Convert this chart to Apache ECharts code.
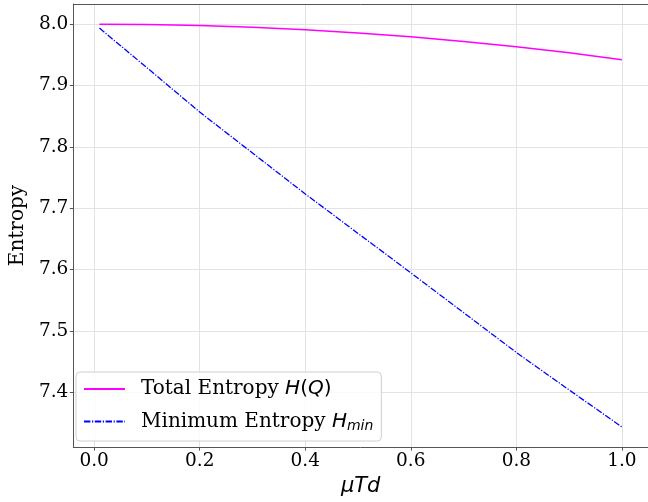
<!DOCTYPE html>
<html><head><meta charset="utf-8">
<script src="https://cdn.jsdelivr.net/npm/echarts@6/dist/echarts.min.js"></script>
<style>html,body{margin:0;padding:0;background:#fff}#c{width:648px;height:502px}</style>
</head><body><div id="c"></div>
<script>
const xValues = [0.01, 0.1, 0.2, 0.3, 0.4, 0.5, 0.6, 0.7, 0.8, 0.9, 1.0];
const totalEntropy = [8.0, 7.9994, 7.9977, 7.9949, 7.9909, 7.9857, 7.9795, 7.9718, 7.9633, 7.9532, 7.9420];
const minEntropy = [7.9935, 7.929, 7.8567, 7.790, 7.7233, 7.659, 7.5948, 7.530, 7.465, 7.404, 7.3436];
const xTicks = [0.0, 0.2, 0.4, 0.6, 0.8, 1.0];
const yTicks = [7.4, 7.5, 7.6, 7.7, 7.8, 7.9, 8.0];

const serif = "'DejaVu Serif', serif";
const sans = "'DejaVu Sans', sans-serif";
const chart = echarts.init(document.getElementById('c'), null, {renderer: 'canvas'});
chart.setOption({
  animation: false,
  backgroundColor: '#fff',
  grid: {left: 66, top: 4, width: 583, bottom: 51, show: false, containLabel: false},
  xAxis: [{
    type: 'value', min: -0.0395, max: 1.0495,
    axisLine: {show: true, onZero: false, lineStyle: {color: '#555', width: 1}},
    axisTick: {show: true, length: 3.5, customValues: xTicks, lineStyle: {color: '#555'}},
    axisLabel: {customValues: xTicks, margin: 5, color: '#000', fontFamily: serif, fontSize: 18.5, formatter: v => v.toFixed(1)},
    splitLine: {show: true, lineStyle: {color: '#e3e3e3', width: 1}},
    name: 'μTd', nameLocation: 'middle', nameGap: 28,
    nameTextStyle: {fontFamily: sans, fontStyle: 'italic', fontSize: 21, color: '#000'}
  }, {
    type: 'value', position: 'top', min: -0.0395, max: 1.0495,
    axisLine: {show: true, onZero: false, lineStyle: {color: '#555', width: 1}},
    axisTick: {show: false}, axisLabel: {show: false}, splitLine: {show: false}
  }],
  yAxis: {
    type: 'value', min: 7.3108, max: 8.0328,
    axisLine: {show: true, onZero: false, lineStyle: {color: '#555', width: 1}},
    axisTick: {show: true, length: 3.5, customValues: yTicks, lineStyle: {color: '#555'}},
    axisLabel: {customValues: yTicks, margin: 5, color: '#000', fontFamily: serif, fontSize: 18.5, formatter: v => v.toFixed(1)},
    splitLine: {show: true, lineStyle: {color: '#e3e3e3', width: 1}},
    name: 'Entropy', nameLocation: 'middle', nameGap: 39,
    nameTextStyle: {fontFamily: serif, fontSize: 20, color: '#000'}
  },
  legend: {
    orient: 'vertical', left: 76, top: 372,
    padding: [6, 8, 8, 7],
    itemWidth: 41, itemHeight: 14, itemGap: 10,
    itemStyle: {opacity: 0},
    backgroundColor: 'rgba(255,255,255,0.8)', borderColor: '#d0d0d0', borderWidth: 1, borderRadius: 4,
    textStyle: {
      fontFamily: serif, fontSize: 20, color: '#000', lineHeight: 22, padding: [0, 0, 0, 11],
      rich: {
        i: {fontFamily: sans, fontStyle: 'italic', fontSize: 20, lineHeight: 22},
        p: {fontFamily: sans, fontSize: 20, lineHeight: 22},
        s: {fontFamily: sans, fontStyle: 'italic', fontSize: 14, lineHeight: 22, padding: [9, 0, 0, 0]}
      }
    },
    formatter: function (name) {
      if (name === 'Total Entropy H(Q)') return 'Total Entropy {i|H}{p|(}{i|Q}{p|)}';
      return 'Minimum Entropy {i|H}{s|min}';
    },
    data: [{name: 'Total Entropy H(Q)'}, {name: 'Minimum Entropy H_min'}]
  },
  series: [
    {name: 'Total Entropy H(Q)', type: 'line', xAxisIndex: 0, data: xValues.map((x, i) => [x, totalEntropy[i]]),
     symbol: 'none', lineStyle: {color: '#ff00ff', width: 1.5}, itemStyle: {color: '#ff00ff'}},
    {name: 'Minimum Entropy H_min', type: 'line', xAxisIndex: 0, data: xValues.map((x, i) => [x, minEntropy[i]]),
     symbol: 'none', lineStyle: {color: '#0000ff', width: 1.3, type: [6.4, 1.6, 1.2, 1.6]}, itemStyle: {color: '#0000ff'}}
  ]
});
</script></body></html>
